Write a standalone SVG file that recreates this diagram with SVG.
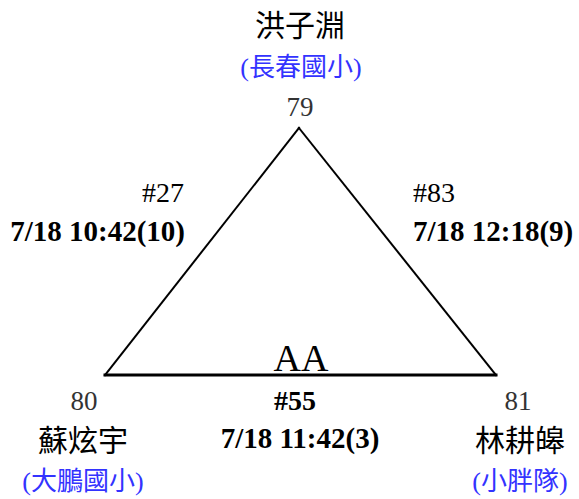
<svg xmlns="http://www.w3.org/2000/svg" width="579" height="499" viewBox="0 0 579 499">
<style>
.name{font-family:"Liberation Serif","Noto Sans CJK TC",serif;font-size:30px;fill:#000;text-anchor:middle}
.team{font-family:"Liberation Serif","Noto Sans CJK TC",serif;font-size:26px;fill:#3333ff;text-anchor:middle}
.num{font-family:"Liberation Serif",serif;font-size:27px;fill:#333;text-anchor:middle}
.lbl{font-family:"Liberation Serif",serif;font-size:28px;fill:#000}
.time{font-family:"Liberation Serif",serif;font-size:29px;font-weight:bold;fill:#000}
.edge{stroke:#000;fill:none;stroke-linecap:square}
</style>
<rect width="579" height="499" fill="#fff"/>
<g id="connectors">
<line class="edge" x1="299" y1="128" x2="105" y2="375" stroke-width="2"/>
<line class="edge" x1="299" y1="128" x2="496" y2="375" stroke-width="2"/>
<line class="edge" x1="105" y1="375" x2="496" y2="375" stroke-width="3"/>
</g>
<g id="node79">
<text class="name" x="300" y="36">洪子淵</text>
<text class="team" x="301" y="76">(長春國小)</text>
<text class="num" x="300" y="116">79</text>
</g>
<g id="node80">
<text class="num" x="84" y="410">80</text>
<text class="name" x="83" y="451">蘇炫宇</text>
<text class="team" x="83" y="490">(大鵬國小)</text>
</g>
<g id="node81">
<text class="num" x="518" y="410">81</text>
<text class="name" x="520" y="451">林耕皞</text>
<text class="team" x="520" y="490">(小胖隊)</text>
</g>
<g id="edge27">
<text class="lbl" x="184" y="202" text-anchor="end">#27</text>
<text class="time" x="185" y="241" text-anchor="end">7/18 10:42(10)</text>
</g>
<g id="edge83">
<text class="lbl" x="413" y="202">#83</text>
<text class="time" x="413" y="241">7/18 12:18(9)</text>
</g>
<g id="edge55">
<text class="name" x="301" y="371" style="font-size:38px">AA</text>
<text class="lbl" x="295" y="410" text-anchor="middle" style="font-weight:bold">#55</text>
<text class="time" x="300" y="448" text-anchor="middle">7/18 11:42(3)</text>
</g>
</svg>
